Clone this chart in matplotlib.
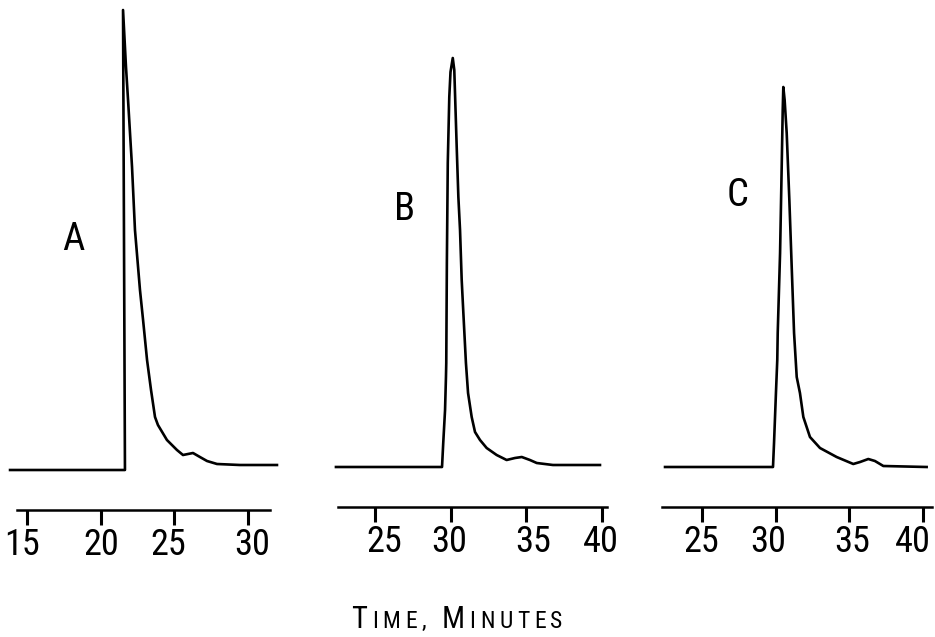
import matplotlib
matplotlib.use("Agg")
import matplotlib.pyplot as plt
import matplotlib.font_manager as fm
from matplotlib.transforms import ScaledTranslation

# ---- data (time in minutes, detector response in arbitrary units)
time_a = [13.85, 21.65, 21.52, 21.72, 21.86, 22.13, 22.33, 22.67, 22.88, 23.15, 23.42,
          23.69, 23.89, 24.50, 25.18, 25.59, 25.93, 26.27, 26.74, 27.22, 27.90, 29.46, 31.97]
signal_a = [0, 0, 460, 403, 370, 303, 240, 180, 150, 110, 80,
            53, 45, 30, 20, 15, 16, 17, 13, 9, 6, 5, 5]

time_b = [22.42, 29.43, 29.51, 29.63, 29.69, 29.71, 29.75, 29.81, 29.91, 29.99, 30.14,
          30.24, 30.40, 30.51, 30.62, 30.73, 30.84, 31.01, 31.15, 31.39, 31.61, 31.94,
          32.38, 33.04, 33.70, 34.25, 34.70, 35.24, 35.69, 36.76, 39.87]
signal_b = [0, 0, 24, 57, 90, 104, 204, 304, 370, 395, 409,
            397, 320, 270, 237, 187, 154, 104, 74, 50, 35, 27,
            19, 12, 7, 9, 10, 7, 4, 2, 2]

time_c = [22.49, 29.82, 29.89, 30.02, 30.11, 30.14, 30.30, 30.41, 30.48, 30.52, 30.61,
          30.75, 30.93, 31.09, 31.25, 31.43, 31.65, 31.88, 32.33, 33.01, 34.14, 35.27,
          35.73, 36.29, 36.74, 37.31, 40.25]
signal_c = [0, 0, 24, 74, 107, 134, 214, 300, 357, 380, 367,
            334, 267, 200, 134, 90, 74, 50, 30, 19, 10, 3,
            5, 8, 6, 1, 0]

panel_labels = ["A", "B", "C"]
ticks_a = [15, 20, 25, 30]
ticks_bc = [25, 30, 35, 40]

# ---- fonts: the original lettering is tall and narrow, so look for a condensed face
entries = fm.fontManager.ttflist
names = {f.name for f in entries}
family, stretch = "DejaVu Sans", "normal"
for cand in ["Liberation Sans Narrow", "Roboto Condensed", "Open Sans Condensed"]:
    if cand in names:
        family = cand
        break
else:
    cond = [f for f in entries if f.stretch in ("condensed", "semi-condensed")
            and f.style == "normal" and f.name in ("DejaVu Sans", "Noto Sans", "Open Sans", "Roboto")]
    if cond:
        family, stretch = cond[0].name, cond[0].stretch
plt.rcParams["font.family"] = [family, "DejaVu Sans"]
plt.rcParams["font.stretch"] = stretch

W, H = 935, 637
fig = plt.figure(figsize=(W / 100, H / 100), dpi=100)
renderer = fig.canvas.get_renderer()


def fit_size(txt, target_w, max_size):
    # font size that gives the text the width measured on the reference
    probe = fig.text(0, 0, txt, fontsize=20)
    w = probe.get_window_extent(renderer).width
    probe.remove()
    return min(max_size, 20 * target_w / w)


tick_fs = fit_size("20", 36, 30)
letter_fs = fit_size("B", 21, 30)

# layout per panel: (ref time, ref px, px per minute, axes left px, axes right px,
#                    spine start px, spine end px, spine y px, label px, tick label nudges px)
layout = [
    (15, 27, 14.73, 0, 310, 17, 270, 510, (73, 240), [-5, 1, -6, 4]),
    (25, 375, 15.13, 320, 640, 338, 607, 507, (405, 210), [9, -1, 7, -1]),
    (25, 702, 14.73, 650, 935, 662, 932, 507, (738, 195), [-1, -7, 3, -10]),
]
traces = [(time_a, signal_a, ticks_a), (time_b, signal_b, ticks_bc), (time_c, signal_c, ticks_bc)]


def px2t(px, ref_t, ref_px, ppm):
    return ref_t + (px - ref_px) / ppm


for (t, s, ticks), lab, lay in zip(traces, panel_labels, layout):
    ref_t, ref_px, ppm, lpx, rpx, s0, s1, sy, (lx, ly), nudges = lay
    ax = fig.add_axes([lpx / W, 1 - sy / H, (rpx - lpx) / W, sy / H])
    ax.patch.set_alpha(0)
    ax.plot(t, s, color="black", lw=1.9, solid_joinstyle="round", clip_on=False)
    ax.set_xlim(px2t(lpx, ref_t, ref_px, ppm), px2t(rpx, ref_t, ref_px, ppm))
    ax.set_ylim(-40, sy - 40)
    for side in ["top", "right", "left"]:
        ax.spines[side].set_visible(False)
    ax.spines["bottom"].set_linewidth(1.8)
    ax.spines["bottom"].set_bounds(px2t(s0, ref_t, ref_px, ppm), px2t(s1, ref_t, ref_px, ppm))
    ax.set_yticks([])
    ax.set_xticks(ticks)
    ax.set_xticklabels([str(v) for v in ticks])
    ax.tick_params(axis="x", direction="out", length=11, width=2.2, pad=1, labelsize=tick_fs)
    # hand-lettered labels sit a little off their ticks
    for lbl, dx in zip(ax.get_xticklabels(), nudges):
        lbl.set_transform(lbl.get_transform() + ScaledTranslation(dx / 100, 0, fig.dpi_scale_trans))
    fig.text(lx / W, 1 - ly / H, lab, fontsize=letter_fs, ha="center", va="center")

# ---- small caps axis title "TIME, MINUTES", wide letter spacing like the stencil lettering
title_chars = [("T", 22), ("I", 17), ("M", 17), ("E", 17), (",", 17), (" ", 17),
               ("M", 22), ("I", 17), ("N", 17), ("U", 17), ("T", 17), ("E", 17), ("S", 17)]
base_y = 1 - 628 / H
objs = [fig.text(0, base_y, ch, fontsize=fs, ha="left", va="baseline") for ch, fs in title_chars]
widths = [o.get_window_extent(renderer).width if ch != " " else 6 for o, (ch, fs) in zip(objs, title_chars)]
gap = max(1.0, (211 - sum(widths)) / (len(objs) - 1))
x = 457 - (sum(widths) + gap * (len(objs) - 1)) / 2
for o, w in zip(objs, widths):
    o.set_x(x / W)
    x += w + gap

fig.savefig("out.png", dpi=100, facecolor="white")
